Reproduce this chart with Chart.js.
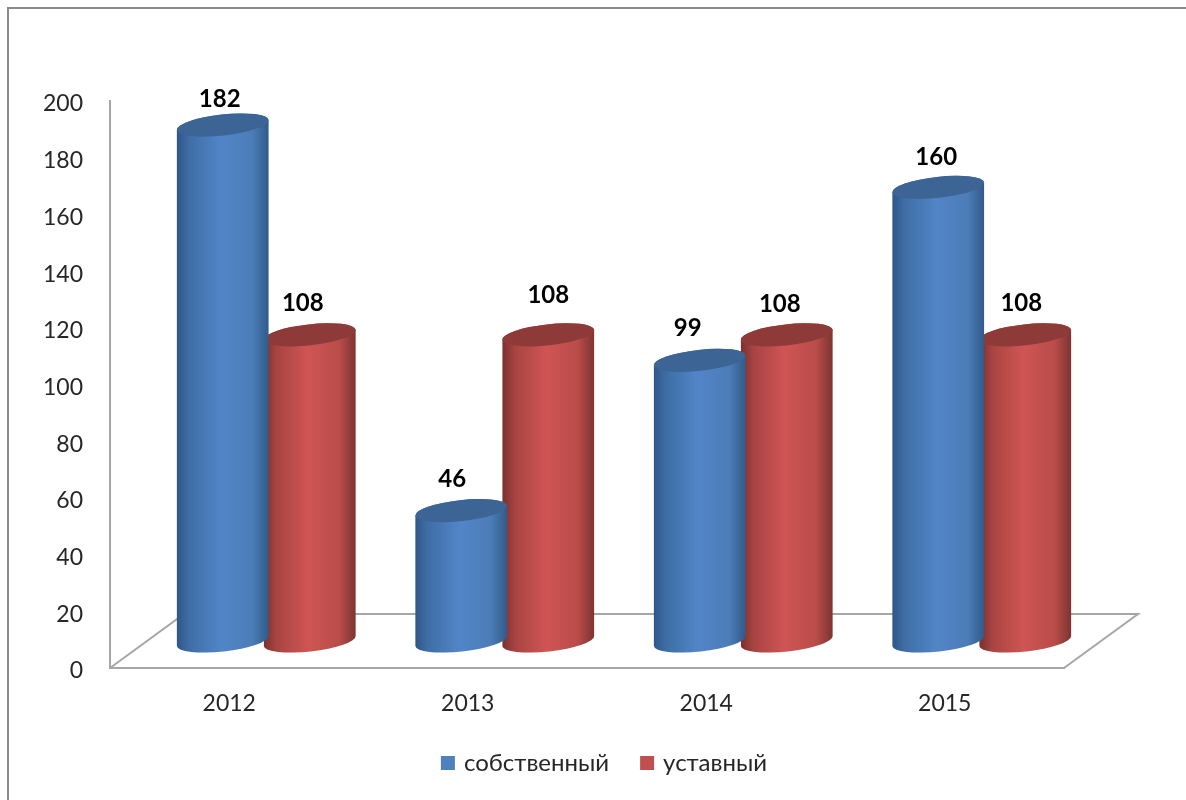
<!DOCTYPE html>
<html>
<head>
<meta charset="utf-8">
<title>Chart</title>
<script src="https://cdn.jsdelivr.net/npm/chart.js@4"></script>
<style>
  html, body { margin: 0; padding: 0; background: #fff; overflow: hidden; }
  #frame { position: absolute; left: 7px; top: 7px; right: 0; bottom: 0; border-left: 2px solid #8a8a8a; border-top: 2px solid #8a8a8a; }
  #chart { position: absolute; left: 0; top: 0; }
</style>
</head>
<body>
<div id="frame"></div>
<canvas id="chart" width="1186" height="800"></canvas>
<script>
const years = ['2012', '2013', '2014', '2015'];
const sobstvenny = [182, 46, 99, 160];
const ustavny = [108, 108, 108, 108];
const yTicks = [0, 20, 40, 60, 80, 100, 120, 140, 160, 180, 200];

// the labels were placed by hand in the original, so each one has its own nudge
const blueLabelNudge = [[3, 6], [-3, 1], [-6, 0], [4, 2]];
const redLabelNudge = [[-1, 0], [6, -8], [-1, 1], [2, 0]];

const depthX = 37, depthY = -27;
const tilt = -0.11, capRy = 10.5;
const fontName = 'Lato, "Noto Sans", sans-serif';

const blueStops = ['#2e5687', '#3f6ea6', '#5285c8', '#4c7db8', '#305a88'];
const redStops = ['#79302e', '#a84442', '#cf5553', '#b94c49', '#7c3432'];
const stopAt = [0, 0.14, 0.48, 0.82, 1];

function drawCylinder(ctx, bar, stops, capColor) {
  const cx = bar.x + depthX, rx = bar.width / 2;
  const topY = bar.y + depthY, botY = bar.base + depthY;
  const grad = ctx.createLinearGradient(cx - rx, 0, cx + rx, 0);
  stops.forEach((c, i) => grad.addColorStop(stopAt[i], c));
  ctx.beginPath();
  ctx.ellipse(cx, botY, rx, capRy, tilt, Math.PI, 0, true);
  ctx.ellipse(cx, topY, rx, capRy, tilt, 0, Math.PI, true);
  ctx.closePath();
  ctx.fillStyle = grad;
  ctx.fill();
  ctx.beginPath();
  ctx.ellipse(cx, topY, rx, capRy, tilt, 0, Math.PI * 2);
  ctx.fillStyle = capColor;
  ctx.fill();
}

const cylinders = {
  id: 'cylinders',
  beforeDatasetsDraw(chart) {
    // the floor and back line of the 3d box
    const { ctx, scales } = chart;
    const zero = scales.y.getPixelForValue(0);
    ctx.save();
    ctx.strokeStyle = '#a6a6a6';
    ctx.lineWidth = 2;
    ctx.beginPath();
    ctx.moveTo(scales.x.left, zero);
    ctx.lineTo(scales.x.left + depthX * 2, zero + depthY * 2);
    ctx.lineTo(scales.x.right + depthX * 2, zero + depthY * 2);
    ctx.lineTo(scales.x.right, zero);
    ctx.stroke();
    ctx.restore();
  },
  beforeDatasetDraw(chart, args) {
    const blue = args.index === 0;
    chart.getDatasetMeta(args.index).data.forEach(bar => {
      drawCylinder(chart.ctx, bar, blue ? blueStops : redStops, blue ? '#3c6494' : '#8e3a38');
    });
    return false;
  },
  afterDatasetsDraw(chart) {
    const { ctx } = chart;
    ctx.save();
    ctx.font = 'bold 24px ' + fontName;
    ctx.fillStyle = '#000';
    ctx.textAlign = 'center';
    ctx.textBaseline = 'middle';
    chart.data.datasets.forEach((ds, d) => {
      const nudge = d === 0 ? blueLabelNudge : redLabelNudge;
      chart.getDatasetMeta(d).data.forEach((bar, i) => {
        ctx.fillText(ds.data[i], bar.x + 31 + nudge[i][0], bar.y - 59 + nudge[i][1]);
      });
    });
    ctx.restore();
  },
  afterLayout(chart) {
    // legend sits a bit right of the canvas centre and above its slot
    chart.legend.left = 25;
    chart.legend.right = 1186;
    chart.legend.top -= 15;
  }
};

new Chart(document.getElementById('chart'), {
  type: 'bar',
  data: {
    labels: years,
    datasets: [
      { label: 'собственный', data: sobstvenny, backgroundColor: '#4f81bd' },
      { label: 'уставный', data: ustavny, backgroundColor: '#c0504d' }
    ]
  },
  options: {
    responsive: false,
    animation: false,
    devicePixelRatio: 1,
    categoryPercentage: 0.73,
    barPercentage: 1.06,
    layout: { padding: { left: 0, right: 122, top: 101, bottom: 0 } },
    plugins: {
      tooltip: { enabled: false },
      legend: {
        position: 'bottom',
        labels: {
          usePointStyle: true, pointStyle: 'rect', boxWidth: 8, boxHeight: 14, padding: 34,
          color: '#262626', font: { family: fontName, size: 24 }
        }
      }
    },
    scales: {
      x: {
        grid: { display: false },
        border: { display: true, color: '#a6a6a6', width: 2 },
        afterFit(s) { s.height = 64; },
        ticks: { padding: 14, color: '#262626', font: { family: fontName, size: 23 } }
      },
      y: {
        min: 0,
        max: 200,
        afterBuildTicks(s) { s.ticks = yTicks.map(v => ({ value: v })); },
        afterFit(s) { s.width = 110; },
        grid: { display: false },
        border: { display: true, color: '#a6a6a6', width: 2 },
        ticks: { padding: 19, labelOffset: 3, color: '#262626', font: { family: fontName, size: 23 } }
      }
    }
  },
  plugins: [cylinders]
});
</script>
</body>
</html>
